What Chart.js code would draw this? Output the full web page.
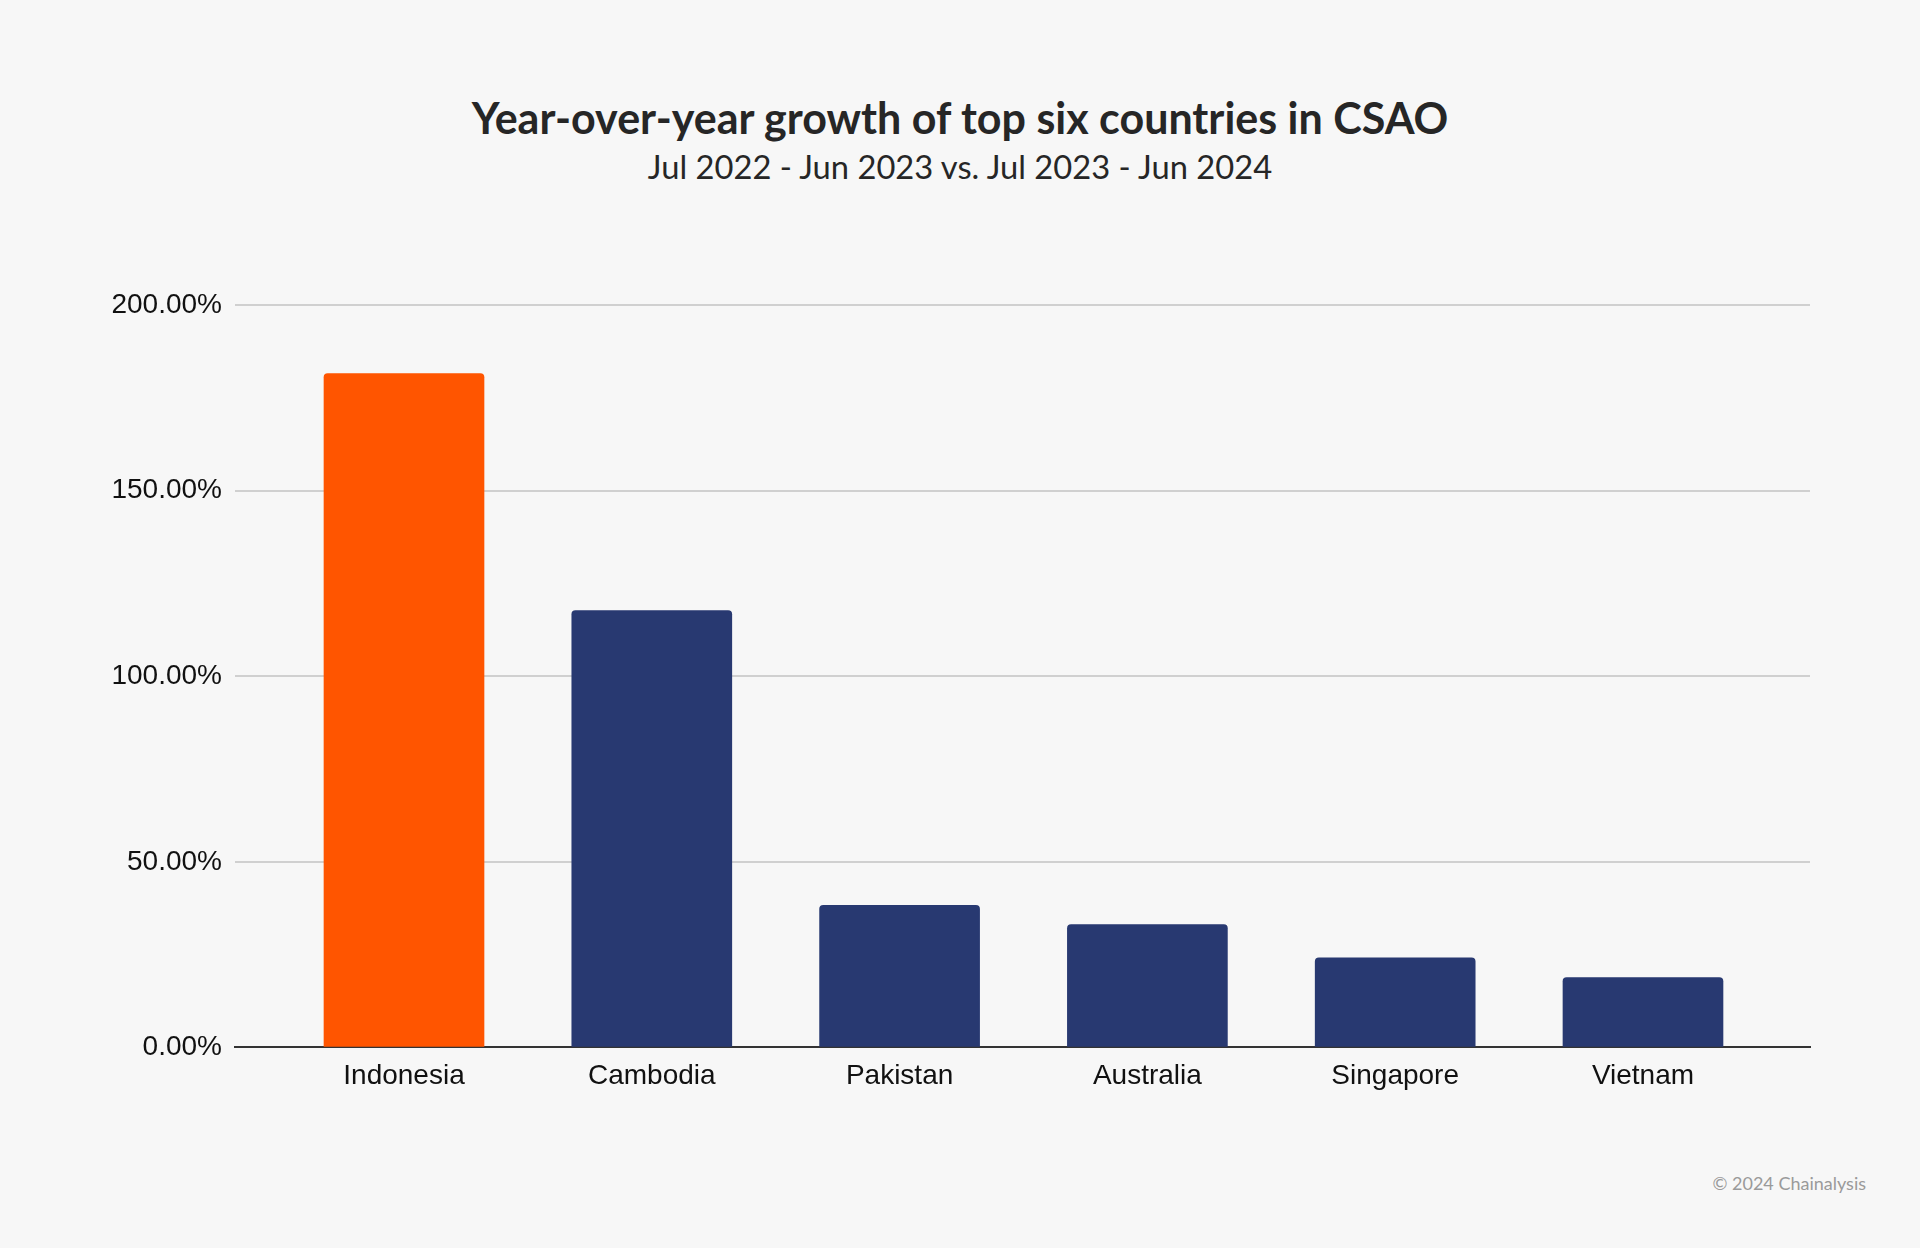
<!DOCTYPE html>
<html>
<head>
<meta charset="utf-8">
<script src="https://cdn.jsdelivr.net/npm/chart.js@4.4.1/dist/chart.umd.min.js"></script>
<style>
  html, body { margin: 0; padding: 0; background: #f7f7f7; }
  #wrap { position: relative; width: 1920px; height: 1248px; }
  #title { position: absolute; top: 92px; left: 0; width: 1920px; text-align: center;
    font: bold 43px Lato, sans-serif; color: #262626; }
  #subtitle { position: absolute; top: 147px; left: 0; width: 1920px; text-align: center;
    font: 32.7px Lato, sans-serif; color: #262626; }
  #credit { position: absolute; top: 1172px; right: 54px; font: 18px Lato, sans-serif; color: #9a9a9a; }
  canvas { position: absolute; top: 0; left: 0; }
</style>
</head>
<body>
<div id="wrap">
  <div id="title">Year-over-year growth of top six countries in CSAO</div>
  <div id="subtitle">Jul 2022 - Jun 2023 vs. Jul 2023 - Jun 2024</div>
  <div id="credit">© 2024 Chainalysis</div>
  <canvas id="mainChart" width="1920" height="1248"></canvas>
</div>
<script>
const countries = ["Indonesia", "Cambodia", "Pakistan", "Australia", "Singapore", "Vietnam"];
const growth = [181.5, 117.7, 38.3, 33.1, 24.1, 18.8];
const yTicks = [0, 50, 100, 150, 200];

const ORANGE = "#ff5500";
const NAVY = "#283971";

const ctx = document.getElementById("mainChart");

new Chart(ctx, {
  type: "bar",
  data: {
    datasets: [
      {
        label: "YoY growth",
        data: growth.map((v, i) => ({ x: i, y: v })),
        backgroundColor: countries.map((c, i) => (i === 0 ? ORANGE : NAVY)),
        borderRadius: { topLeft: 4, topRight: 4 },
        borderSkipped: "bottom",
        barThickness: 160,
      },
    ],
  },
  options: {
    responsive: false,
    animation: false,
    devicePixelRatio: 1,
    layout: { padding: { left: 109, right: 110, top: 305, bottom: 151 } },
    plugins: {
      legend: { display: false },
      tooltip: { enabled: false },
    },
    scales: {
      x: {
        type: "linear",
        offset: false,
        min: -0.682,
        max: 5.674,
        afterBuildTicks: (scale) => {
          scale.ticks = countries.map((c, i) => ({ value: i }));
        },
        grid: { display: false },
        border: { display: true, color: "#333333", width: 2 },
        ticks: {
          padding: 4,
          color: "#111111",
          font: { family: "Liberation Sans, Arial", size: 28 },
          callback: (v) => countries[v],
        },
      },
      y: {
        min: 0,
        max: 200,
        afterBuildTicks: (scale) => {
          scale.ticks = yTicks.map((v) => ({ value: v }));
        },
        afterFit: (scale) => {
          scale.width = 126;
        },
        grid: { color: "#d0d0d0", lineWidth: 2, drawTicks: false },
        border: { display: false },
        ticks: {
          padding: 13,
          color: "#111111",
          font: { family: "Liberation Sans, Arial", size: 28 },
          callback: (v) => v.toFixed(2) + "%",
        },
      },
    },
  },
});
</script>
</body>
</html>
